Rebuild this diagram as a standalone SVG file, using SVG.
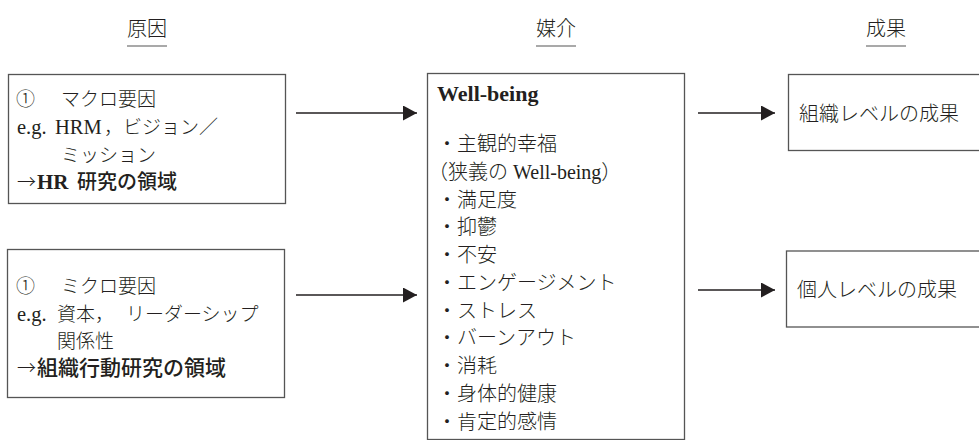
<svg xmlns="http://www.w3.org/2000/svg" width="979" height="440" viewBox="0 0 979 440">
<style>
.bg{fill:#ffffff}
.box{fill:#ffffff;stroke:#555555;stroke-width:1.3}
.t{font-family:"Liberation Serif","Noto Sans CJK JP",serif;font-size:19px;font-weight:300;fill:#231f20}
.h{font-family:"Liberation Serif","Noto Sans CJK JP",serif;font-size:20px;font-weight:300;fill:#231f20}
.ul{stroke:#555555;stroke-width:1.2}
.g{font-family:"Noto Sans CJK JP",sans-serif;font-weight:500;font-size:20px}
.j{font-family:"Noto Sans CJK JP",sans-serif}
.l{font-size:20.5px;font-weight:400}
.b{font-family:"Liberation Serif",serif;font-weight:700}
.c{font-size:20px}
.conn{stroke:#231f20;stroke-width:1.3;fill:none}
</style>
<defs>
<marker id="ah" markerUnits="userSpaceOnUse" markerWidth="15" markerHeight="16" refX="14" refY="7.5" orient="auto">
<path d="M0,0 L14,7.5 L0,15 Z" fill="#231f20"/>
</marker>
</defs>
<rect class="bg" x="0" y="0" width="979" height="440"/>
<g id="headers">
<text class="h" x="147" y="36" text-anchor="middle">原因</text>
<line class="ul" x1="127" y1="46" x2="167" y2="46"/>
<text class="h" x="556" y="36" text-anchor="middle">媒介</text>
<line class="ul" x1="536" y1="46" x2="576" y2="46"/>
<text class="h" x="886" y="36" text-anchor="middle">成果</text>
<line class="ul" x1="866" y1="46" x2="906" y2="46"/>
</g>
<g id="macro">
<rect class="box" x="8.5" y="74.5" width="277" height="129"/>
<text class="t" y="106"><tspan class="j" x="16">①</tspan><tspan x="61">マクロ要因</tspan></text>
<text class="t" y="134"><tspan class="l" x="17">e.g.</tspan><tspan class="l" x="55">HRM</tspan><tspan x="104">，</tspan><tspan x="123">ビジョン／</tspan></text>
<text class="t" y="162" x="61">ミッション</text>
<text class="t" y="189"><tspan class="j" x="17">→</tspan><tspan class="b" x="37" style="font-size:21px">HR</tspan><tspan class="g" x="77">研究の領域</tspan></text>
</g>
<g id="micro">
<rect class="box" x="7.5" y="249.5" width="277" height="148"/>
<text class="t" y="293"><tspan class="j" x="16">①</tspan><tspan x="61">ミクロ要因</tspan></text>
<text class="t" y="320.5"><tspan class="l" x="17">e.g.</tspan><tspan x="57">資本</tspan><tspan x="95">，</tspan><tspan x="126">リーダーシップ</tspan></text>
<text class="t" y="347.5" x="57">関係性</text>
<text class="t" y="374.5"><tspan class="j" x="17">→</tspan><tspan class="g" x="37" style="font-size:21px">組織行動研究の領域</tspan></text>
</g>
<g id="wellbeing">
<rect class="box" x="427.5" y="73.5" width="257" height="366"/>
<text class="t b" x="437" y="101" style="font-size:22px">Well-being</text>
<text class="t c" x="437" y="151">・主観的幸福</text>
<text class="t c" x="428" y="179">（狭義の <tspan style="font-weight:400">Well-being</tspan>）</text>
<text class="t c" x="437" y="206.5">・満足度</text>
<text class="t c" x="437" y="234">・抑鬱</text>
<text class="t c" x="437" y="262">・不安</text>
<text class="t c" x="437" y="289.5">・エンゲージメント</text>
<text class="t c" x="437" y="317.5">・ストレス</text>
<text class="t c" x="437" y="345">・バーンアウト</text>
<text class="t c" x="437" y="373">・消耗</text>
<text class="t c" x="437" y="400.5">・身体的健康</text>
<text class="t c" x="437" y="428.5">・肯定的感情</text>
</g>
<g id="org">
<rect class="box" x="788.5" y="74.5" width="200" height="76"/>
<text class="t c" x="799" y="120.5">組織レベルの成果</text>
</g>
<g id="ind">
<rect class="box" x="786.5" y="251" width="200" height="76"/>
<text class="t c" x="797" y="296.5">個人レベルの成果</text>
</g>
<g id="connectors">
<line class="conn" x1="296" y1="113" x2="417" y2="113" marker-end="url(#ah)"/>
<line class="conn" x1="296" y1="295" x2="417" y2="295" marker-end="url(#ah)"/>
<line class="conn" x1="698" y1="113" x2="775" y2="113" marker-end="url(#ah)"/>
<line class="conn" x1="698" y1="290" x2="775" y2="290" marker-end="url(#ah)"/>
</g>
</svg>
